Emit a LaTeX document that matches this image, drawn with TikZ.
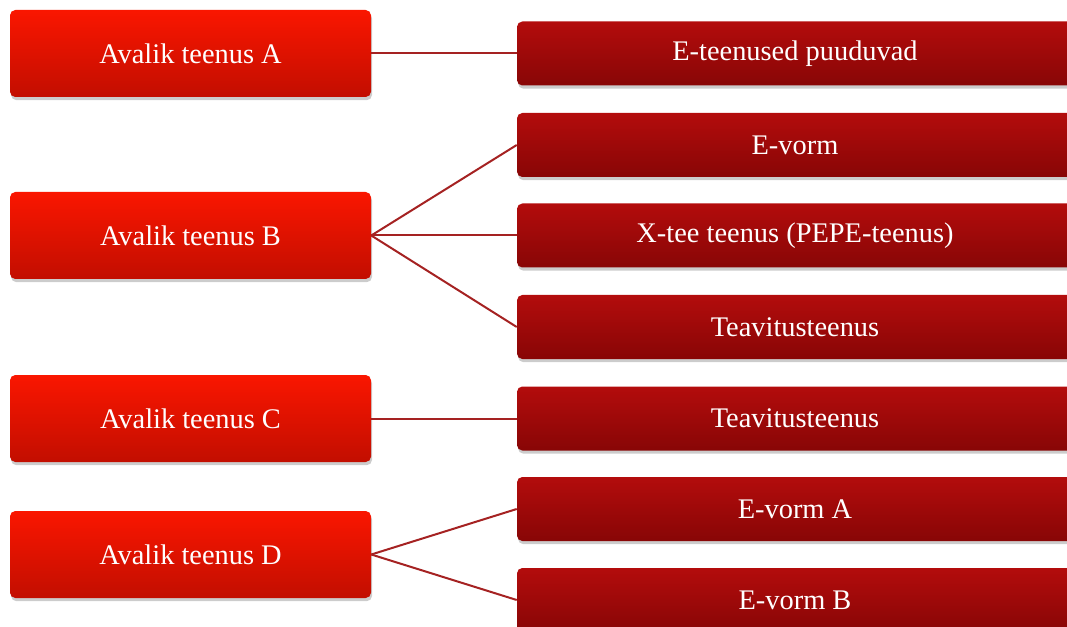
\documentclass[tikz,border=0pt]{standalone}
\usepackage{fontspec}
\setmainfont{Liberation Serif}
\usepackage{xcolor}
\usetikzlibrary{shadows}

\definecolor{leftTop}{HTML}{FA1600}
\definecolor{leftBot}{HTML}{C20E00}
\definecolor{rightTop}{HTML}{B30C0C}
\definecolor{rightBot}{HTML}{880606}
\definecolor{linkRed}{HTML}{A52222}

\begin{document}
\begin{tikzpicture}[
    x=0.75pt, y=-0.75pt,
    every node/.style={font=\fontsize{21.3}{25}\selectfont, text=white},
    svc/.style={rounded corners=4pt, top color=leftTop, bottom color=leftBot, draw=none,
      minimum width=270.75pt, minimum height=65.25pt, inner sep=0pt,
      drop shadow={opacity=0.4, shadow xshift=0.8pt, shadow yshift=-2.4pt}},
    esvc/.style={rounded corners=4pt, top color=rightTop, bottom color=rightBot, draw=none,
      minimum width=417pt, minimum height=48pt, inner sep=0pt,
      drop shadow={opacity=0.4, shadow xshift=0.8pt, shadow yshift=-2.4pt}},
    ln/.style={draw=linkRed, line width=1.5pt}
]
\useasboundingbox (0,0) rectangle (1067,627);
\clip (0,0) rectangle (1067,627);
% avalikud teenused
\node[svc] (ta) at (190.5,53.5)  {Avalik teenus A};
\node[svc] (tb) at (190.5,235.5) {Avalik teenus B};
\node[svc] (tc) at (190.5,418.5) {Avalik teenus C};
\node[svc] (td) at (190.5,554.5) {Avalik teenus D};
% e-teenused
\node[esvc] (ea)  at (795,53.5)  {E-teenused puuduvad};
\node[esvc] (eb1) at (795,145)   {E-vorm};
\node[esvc] (eb2) at (795,235.5) {X-tee teenus (PEPE-teenus)};
\node[esvc] (eb3) at (795,327)   {Teavitusteenus};
\node[esvc] (ec)  at (795,418.5) {Teavitusteenus};
\node[esvc] (ed1) at (795,509)   {E-vorm A};
\node[esvc] (ed2) at (795,600)   {E-vorm B};
% seosed
\draw[ln] (ta.east) -- (ea.west);
\draw[ln] (tb.east) -- (eb1.west);
\draw[ln] (tb.east) -- (eb2.west);
\draw[ln] (tb.east) -- (eb3.west);
\draw[ln] (tc.east) -- (ec.west);
\draw[ln] (td.east) -- (ed1.west);
\draw[ln] (td.east) -- (ed2.west);
\end{tikzpicture}
\end{document}
